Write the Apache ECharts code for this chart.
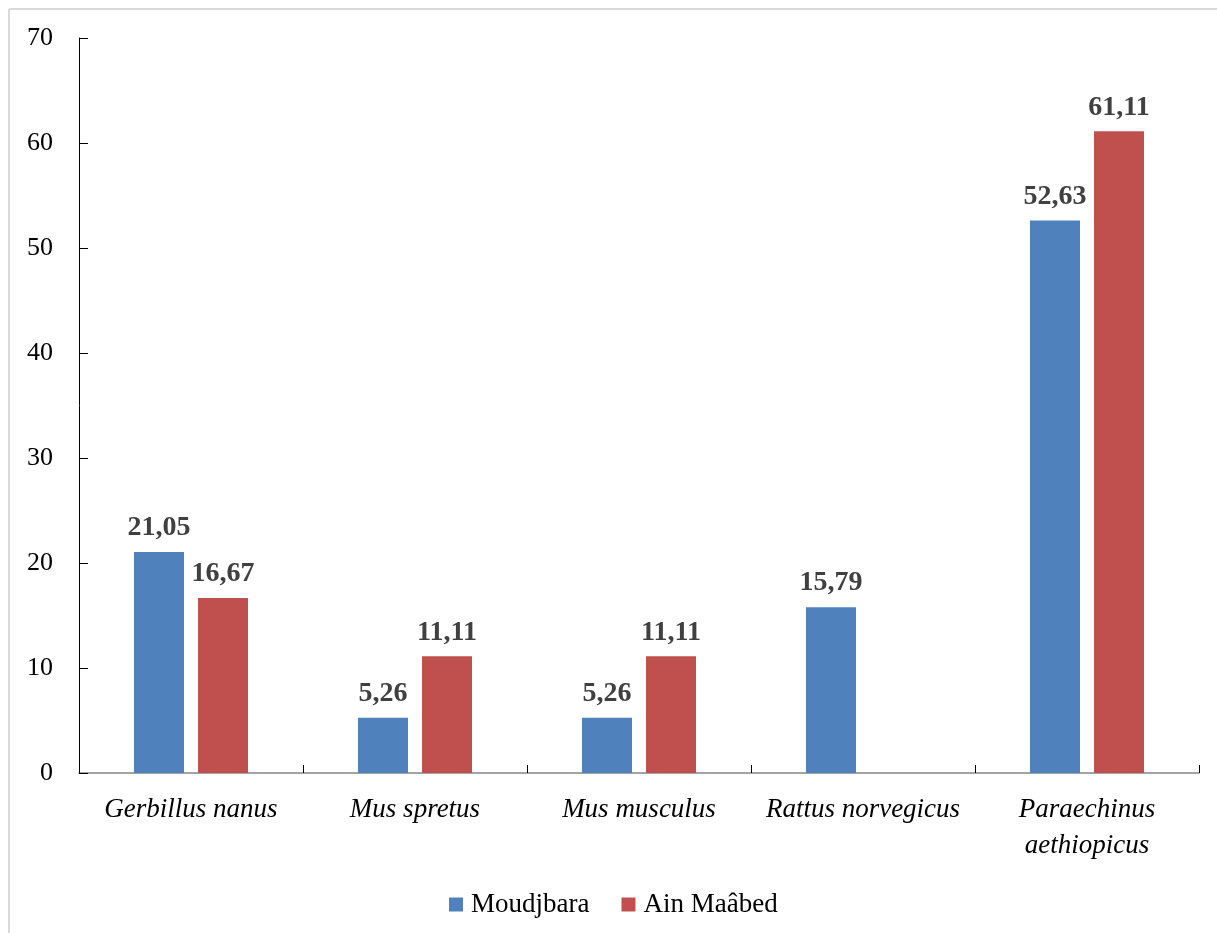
<!DOCTYPE html>
<html><head><meta charset="utf-8">
<script src="https://cdn.jsdelivr.net/npm/echarts@6/dist/echarts.min.js"></script>
<style>html,body{margin:0;padding:0;background:#fff}#c{width:1217px;height:933px}</style>
</head><body><div id="c"></div>
<script>
const categories = ["Gerbillus nanus", "Mus spretus", "Mus musculus", "Rattus norvegicus", "Paraechinus\naethiopicus"];
const moudjbara = [21.05, 5.26, 5.26, 15.79, 52.63];
const ainMaabed = [16.67, 11.11, 11.11, null, 61.11];
const yTicks = [0, 10, 20, 30, 40, 50, 60, 70];
const seriesNames = ["Moudjbara", "Ain Maâbed"];

const serif = '"Liberation Serif", "DejaVu Serif", serif';
const fmt = p => (p.value == null ? '' : p.value.toFixed(2).replace('.', ','));
const labelStyle = {show: true, position: 'top', distance: 10, formatter: fmt,
  fontFamily: serif, fontWeight: 'bold', fontSize: 28, color: '#404040'};

const chart = echarts.init(document.getElementById('c'));
chart.setOption({
  animation: false,
  graphic: [
    {type: 'line', shape: {x1: 9, y1: 9, x2: 9, y2: 933}, style: {stroke: '#d9d9d9', lineWidth: 2}},
    {type: 'line', shape: {x1: 9, y1: 9, x2: 1217, y2: 9}, style: {stroke: '#d9d9d9', lineWidth: 2}}
  ],
  grid: {left: 79, right: 18, top: 38, bottom: 160, containLabel: false},
  legend: {
    left: 444, top: 886, itemWidth: 14, itemHeight: 14, itemGap: 32,
    icon: 'rect',
    textStyle: {fontFamily: serif, fontSize: 27, color: '#000', padding: [0, 0, 0, 3]},
    data: seriesNames
  },
  xAxis: {
    type: 'category', data: categories,
    axisLine: {lineStyle: {color: '#868686', width: 1.5}},
    axisTick: {show: true, inside: true, length: 8, alignWithLabel: false, lineStyle: {color: '#000'}},
    axisLabel: {fontFamily: serif, fontStyle: 'italic', fontSize: 27, color: '#000', margin: 19, lineHeight: 36, interval: 0}
  },
  yAxis: {
    type: 'value', min: 0, max: 70, interval: 10,
    axisLine: {show: true, lineStyle: {color: '#000', width: 1}},
    axisTick: {show: true, inside: true, length: 9, lineStyle: {color: '#000'}},
    splitLine: {show: false},
    axisLabel: {fontFamily: serif, fontSize: 26, color: '#000', margin: 26,
      formatter: v => yTicks.includes(v) ? String(v) : ''}
  },
  series: [
    {name: seriesNames[0], type: 'bar', data: moudjbara, barWidth: 50, barGap: '28%',
     itemStyle: {color: '#4F81BD'}, label: labelStyle},
    {name: seriesNames[1], type: 'bar', data: ainMaabed, barWidth: 50,
     itemStyle: {color: '#C0504D'}, label: labelStyle}
  ]
});
</script></body></html>
